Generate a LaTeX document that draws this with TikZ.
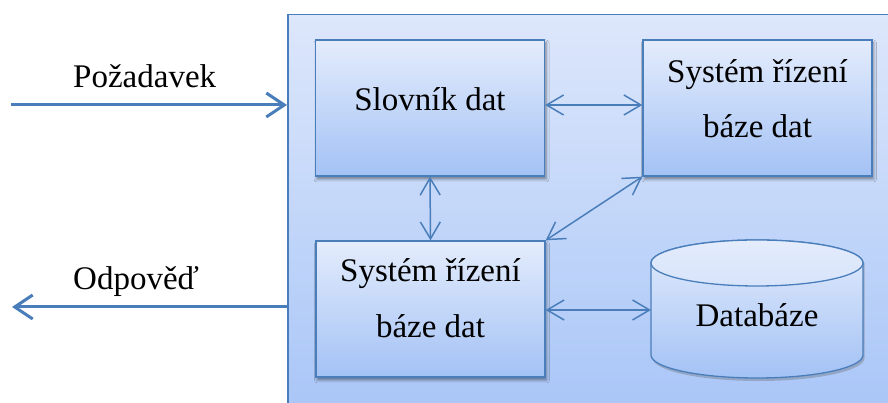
\documentclass[tikz,border=0pt]{standalone}
\usepackage{fontspec}
\setmainfont{Liberation Serif}
\usetikzlibrary{arrows.meta,shadows.blur}
\definecolor{edge}{HTML}{4A7EBB}
\definecolor{boxtop}{HTML}{E4ECFC}
\definecolor{boxbot}{HTML}{A3C2F5}
\definecolor{conttop}{HTML}{DDE7FB}
\definecolor{contbot}{HTML}{A6C4F7}
\begin{document}
\begin{tikzpicture}[x=1pt,y=1pt,
  container/.style={draw=edge, line width=1.5pt, top color=conttop, bottom color=contbot,
    minimum width=640pt, minimum height=420pt, anchor=north west, inner sep=0pt},
  box/.style={draw=edge, line width=1.3pt, top color=boxtop, bottom color=boxbot,
    minimum width=229pt, minimum height=136pt, inner sep=0pt,
    blur shadow={shadow xshift=1.5pt, shadow yshift=-3pt, shadow blur radius=3pt, shadow opacity=45}},
  lbl/.style={font=\fontsize{33}{40}\selectfont, anchor=base, inner sep=0pt},
  link/.style={draw=edge, line width=1.5pt,
    {Straight Barb[length=17pt,width=20pt]}-{Straight Barb[length=17pt,width=20pt]}},
  io/.style={draw=edge, line width=3pt, -{Straight Barb[length=18pt,width=24pt]}}]
\useasboundingbox (0,0) rectangle (888,403);
\clip (0,0) rectangle (888,403);

% container
\node[container] (sys) at (287,389) {};

% boxes
\node[box] (sd) at (430,295) {};
\node[box] (tr) at (757.5,295) {};
\node[box] (bl) at (430.5,94) {};

% cylinder (database)
\fill[black!60, opacity=0.35] (652.5,140) -- (652.5,45) arc[start angle=180, end angle=360, x radius=106, y radius=23] -- (864.5,140) -- cycle;
\path[top color=boxtop, bottom color=boxbot, draw=edge, line width=1.3pt]
  (651,140) -- (651,48) arc[start angle=180, end angle=360, x radius=106, y radius=23]
  -- (863,140) arc[start angle=0, end angle=180, x radius=106, y radius=23] -- cycle;
\path[top color=boxtop, bottom color=boxtop!80!boxbot, draw=edge, line width=1.3pt]
  (757,140) ellipse[x radius=106, y radius=23];
\coordinate (dbw) at (651,93);

% texts
\node[lbl] (t1) at (430,292) {Slovník dat};
\node[lbl] (t2a) at (757.5,320) {Systém řízení};
\node[lbl] (t2b) at (757.5,265) {báze dat};
\node[lbl] (t3a) at (430.5,121) {Systém řízení};
\node[lbl] (t3b) at (430.5,65) {báze dat};
\node[lbl] (db) at (757,76) {Databáze};

% inner connectors
\draw[link] ([yshift=3pt]sd.east) -- ([yshift=3pt]tr.west);
\draw[link] (sd.south) -- (bl.north);
\draw[link] (bl.north east) -- (tr.south west);
\draw[link] (bl.east |- dbw) -- (dbw);

% outer arrows
\coordinate (reqs) at (11,298);
\coordinate (rese) at (12,96);
\draw[io] (reqs) -- (reqs -| sys.west);
\draw[io] (rese -| sys.west) -- (rese);
\node[lbl, anchor=base west] (req) at (73,315) {Požadavek};
\node[lbl, anchor=base west] (res) at (73,113) {Odpověď};
\end{tikzpicture}
\end{document}
